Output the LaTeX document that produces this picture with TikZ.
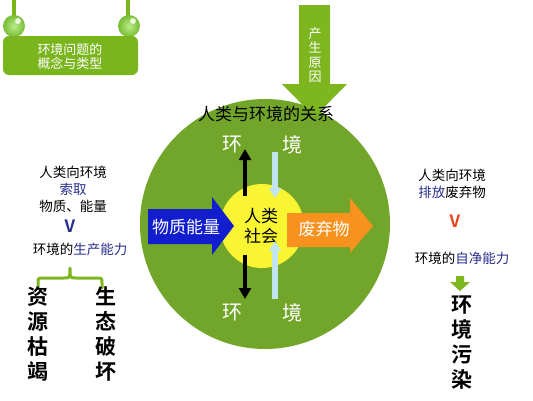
\documentclass[tikz,border=0pt]{standalone}
\usepackage{fontspec}
\setmainfont{Noto Sans CJK SC}[BoldFont={Noto Sans CJK SC Bold}]
\usetikzlibrary{arrows.meta}
\definecolor{circgreen}{RGB}{114,166,42}
\definecolor{boxgreen}{RGB}{122,181,30}
\definecolor{arrgreen}{RGB}{125,182,31}
\definecolor{ballgreen}{RGB}{140,222,60}
\definecolor{socyellow}{RGB}{250,245,50}
\definecolor{matblue}{RGB}{18,30,205}
\definecolor{wasteorange}{RGB}{247,146,30}
\definecolor{paleblue}{RGB}{192,228,240}
\definecolor{dblue}{RGB}{40,45,140}
\definecolor{vred}{RGB}{230,70,30}
\tikzset{
  smalltxt/.style={font=\fontsize{13.5}{15}\selectfont, text=black, inner sep=0pt},
  whitetxt/.style={font=\fontsize{17}{20}\selectfont, text=white, inner sep=0pt},
  envtxt/.style={font=\fontsize{20}{22}\selectfont, text=white, inner sep=0pt},
  bigtxt/.style={font=\fontsize{21}{25}\selectfont\bfseries, text=black, inner sep=0pt, align=center},
  blackarr/.style={line width=4pt, -{Triangle[width=12pt,length=11pt]}, black},
  palearr/.style={line width=5.5pt, -{Triangle[width=12pt,length=10pt]}, paleblue},
  greenball/.style={inner color=ballgreen!60!white, outer color=ballgreen!85!black},
}
\begin{document}
\begin{tikzpicture}[x=1pt,y=-1pt]
\useasboundingbox (0,0) rectangle (533,400);
% top-left hanging box
\draw[boxgreen, line width=4pt] (14,0) -- (14,24) (128,0) -- (128,24);
\shade[greenball] (14,26) circle (11);
\shade[greenball] (129,26) circle (11);
\fill[white, opacity=0.8] (18,21) circle (3);
\fill[white, opacity=0.8] (133,21) circle (3);
\node[fill=boxgreen, rounded corners=6pt, minimum width=135pt, minimum height=39pt, inner sep=0pt] (topic) at (70.5,55.5) {};
\node[font=\fontsize{13}{14}\selectfont, text=white, align=center, inner sep=0pt] (topictxt) at (70,57) {环境问题的\\概念与类型};
% big circle
\fill[circgreen] (265,224) circle (125);
% cause arrow
\fill[arrgreen] (299,5) -- (330,5) -- (330,84) -- (347,84) -- (314.5,117) -- (282,84) -- (299,84) -- cycle;
\node[font=\fontsize{13}{14.5}\selectfont, text=white, align=center, inner sep=0pt] (cause) at (315,55) {产\\生\\原\\因};
% title
\node[font=\fontsize{17}{20}\selectfont, inner sep=0pt] (title) at (266,114) {人类与环境的关系};
% society
\fill[socyellow] (262,226) circle (42);
\node[font=\fontsize{17}{20}\selectfont, align=center, inner sep=0pt] (society) at (261,226) {人类\\社会};
% material arrow
\fill[matblue] (148,209) -- (212,209) -- (212,197) -- (234,226) -- (212,255) -- (212,244) -- (148,244) -- cycle;
\node[whitetxt] (material) at (186,227) {物质能量};
% waste arrow
\fill[wasteorange] (287,213) -- (350,213) -- (350,198) -- (373,226) -- (350,253) -- (350,247) -- (287,247) -- cycle;
\node[whitetxt] (waste) at (324,229) {废弃物};
% environment labels
\node[envtxt] (envA) at (232,145) {环};
\node[envtxt] (envB) at (292,145) {境};
\node[envtxt] (envC) at (232,313) {环};
\node[envtxt] (envD) at (292,313) {境};
% arrows
\coordinate (bu0) at (245,196);
\coordinate (bu1) at (245,149);
\coordinate (bd0) at (245,255);
\coordinate (bd1) at (245,299);
\draw[blackarr] (bu0) -- (bu1);
\draw[blackarr] (bd0) -- (bd1);
\coordinate (pu0) at (275,152);
\coordinate (pu1) at (275,198);
\coordinate (pd0) at (275,299);
\coordinate (pd1) at (275,241);
\draw[palearr] (pu0) -- (pu1);
\draw[palearr] (pd0) -- (pd1);
% left column
\node[smalltxt] (l1) at (73,172) {人类向环境};
\node[smalltxt, text=dblue] (l2) at (73,189) {索取};
\node[smalltxt] (l3) at (73,206) {物质、能量};
\node[font=\fontsize{17}{18}\selectfont\bfseries, text=dblue, inner sep=0pt] (lv) at (70,226) {V};
\node[smalltxt] (l5) at (80,249) {环境的\textcolor{dblue}{生产能力}};
\draw[arrgreen, line width=3pt, line cap=round, line join=round]
  (38,288) -- (38,283) .. controls (38,278) .. (44,278) -- (64,278)
  .. controls (70,278) .. (70,268) .. controls (70,278) .. (76,278)
  -- (96,278) .. controls (102,278) .. (102,283) -- (102,288);
\node[bigtxt] (deplete) at (38,334) {资\\源\\枯\\竭};
\node[bigtxt] (damage) at (106,334) {生\\态\\破\\坏};
% right column
\node[smalltxt] (r1) at (452,175) {人类向环境};
\node[smalltxt] (r2) at (452,192) {\textcolor{dblue}{排放}废弃物};
\node[font=\fontsize{17}{18}\selectfont\bfseries, text=vred, inner sep=0pt] (rv) at (455,221) {V};
\node[smalltxt] (r4) at (462,258) {环境的\textcolor{dblue}{自净能力}};
\fill[arrgreen] (456,276) -- (464,276) -- (464,282) -- (470,282) -- (460,291) -- (450,282) -- (456,282) -- cycle;
\node[bigtxt] (pollute) at (462,343) {环\\境\\污\\染};
\end{tikzpicture}
\end{document}
